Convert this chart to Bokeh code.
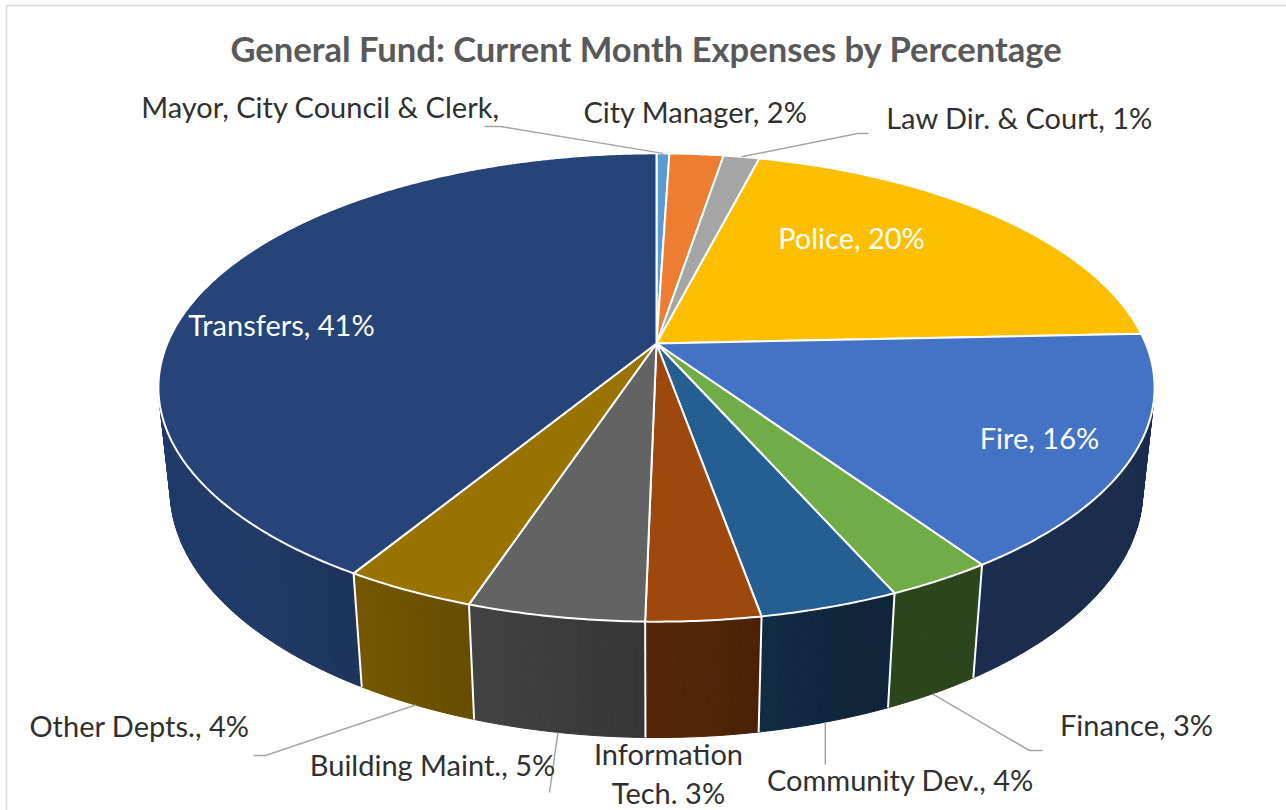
import math
import numpy as np
from bokeh.plotting import figure
from bokeh.models import Range1d
from bokeh.embed import file_html
from bokeh.resources import INLINE
from bokeh.core.properties import value

# ---------------- data ----------------
categories = ["Mayor, City Council & Clerk", "City Manager", "Law Dir. & Court",
              "Police", "Fire", "Finance", "Community Dev.", "Information Tech.",
              "Building Maint.", "Other Depts.", "Transfers"]
values = [0.5, 2.1, 1.4, 20.3, 16.2, 2.9, 3.8, 3.1, 4.8, 3.6, 41.3]
label_texts = ["Mayor, City Council & Clerk,", "City Manager, 2%", "Law Dir. & Court, 1%",
               "Police, 20%", "Fire, 16%", "Finance, 3%", "Community Dev., 4%",
               "Information\nTech. 3%", "Building Maint., 5%", "Other Depts., 4%",
               "Transfers, 41%"]
top_colors = ["#5B9BD5", "#ED7D31", "#A5A5A5", "#FBBF00", "#4472C4", "#70AD47",
              "#255E91", "#9E480E", "#636363", "#997300", "#264478"]
title = "General Fund: Current Month Expenses by Percentage"

# ---------------- layout / style ----------------
FONT = "Lato"
W, H = 1286, 810
CX, CY = 656.0, 343.0
FOC = 2309.0
DIST = 4.72
ALPHA = math.radians(27.5)
THICK = 0.238
SA, CA = math.sin(ALPHA), math.cos(ALPHA)
LABEL_SHIFT = 11.5   # renderer baseline correction
TITLE_SHIFT = 12.5

# label placement: (center x, baseline y, color, anchor on top(0)/bottom(1), leader pts)
label_layout = [
    (320, 117, "#303030", 0, [(484, 126), (500, 126)]),
    (695, 122, "#303030", None, None),
    (1019, 128, "#303030", 0, [(868, 133), (857, 133)]),
    (851, 248, "white", None, None),
    (1039, 448, "white", None, None),
    (1136, 735, "#303030", 1, [(1042, 750), (1029, 750)]),
    (900, 790, "#303030", 1, [("v", 764)]),
    (668, 764, "#303030", None, None),
    (432, 775, "#303030", 1, [(549, 792)]),
    (139, 736, "#303030", 1, [(253, 755), (265, 755)]),
    (281, 335, "white", None, None),
]


def project(theta_deg, w):
    t = math.radians(theta_deg)
    u, v = math.sin(t), math.cos(t)
    depth = DIST + v * CA - w * SA
    up = v * SA + w * CA
    return CX + FOC * u / depth, CY - FOC * up / depth


def shade(hex_color, f):
    h = hex_color.lstrip("#")
    r, g, b = (int(h[i:i + 2], 16) for i in (0, 2, 4))
    return "#%02x%02x%02x" % (int(r * f), int(g * f), int(b * f))


def wall_factor(theta):
    return min(0.88, max(0.40, 0.42 + (theta - 163.0) * 0.00714))


total = float(sum(values))
bounds = [0.0]
for v in values:
    bounds.append(bounds[-1] + 360.0 * v / total)

p = figure(width=W, height=H, output_backend="svg", toolbar_location=None,
           x_range=Range1d(0, W), y_range=Range1d(H, 0), min_border=0)
p.axis.visible = False
p.grid.visible = False
p.outline_line_color = None
p.background_fill_color = "white"

# chart border (top + left visible in reference)
p.segment(x0=[6, 6], y0=[5, 5], x1=[W, 6], y1=[5, H], line_color="#d9d9d9", line_width=1.5)

# ---------------- walls ----------------
vis_lo = math.degrees(math.acos(-1.0 / (DIST * CA)))
vis_hi = 360.0 - vis_lo
wx, wy, wc = [], [], []
edge_x, edge_y = [], []
for i in range(len(values)):
    a0, a1 = bounds[i], bounds[i + 1]
    lo, hi = max(a0, vis_lo), min(a1, vis_hi)
    if hi <= lo:
        continue
    n = max(2, int((hi - lo) / 0.6) + 2)
    ts = np.linspace(lo, hi, n)
    for t0, t1 in zip(ts[:-1], ts[1:]):
        pts = [project(t0, 0), project(t1, 0), project(t1, -THICK), project(t0, -THICK)]
        wx.append([q[0] for q in pts])
        wy.append([q[1] for q in pts])
        wc.append(shade(top_colors[i], wall_factor(0.5 * (t0 + t1))))
for b in bounds[1:-1]:
    if vis_lo < b < vis_hi:
        a, c = project(b, 0), project(b, -THICK)
        edge_x.append([a[0], c[0]])
        edge_y.append([a[1], c[1]])

p.patches(wx, wy, fill_color=wc, line_color=wc, line_width=1)
p.multi_line(edge_x, edge_y, line_color="white", line_width=2)

# ---------------- top faces ----------------
tx, ty = [], []
for i in range(len(values)):
    a0, a1 = bounds[i], bounds[i + 1]
    n = max(3, int((a1 - a0) / 0.5) + 2)
    ts = np.linspace(a0, a1, n)
    xs, ys = [CX], [CY]
    for t in ts:
        q = project(t, 0)
        xs.append(q[0])
        ys.append(q[1])
    tx.append(xs)
    ty.append(ys)
p.patches(tx, ty, fill_color=top_colors, line_color="white", line_width=2, line_join="round")

# ---------------- leaders ----------------
lx, ly = [], []
for i, lay in enumerate(label_layout):
    where, pts = lay[3], lay[4]
    if where is None:
        continue
    mid = 0.5 * (bounds[i] + bounds[i + 1])
    anchor = project(mid, 0 if where == 0 else -THICK)
    xs, ys = [], []
    for q in pts:
        if q[0] == "v":
            xs.append(anchor[0]); ys.append(q[1])
        else:
            xs.append(q[0]); ys.append(q[1])
    xs.append(anchor[0]); ys.append(anchor[1])
    lx.append(xs); ly.append(ys)
p.multi_line(lx, ly, line_color="#a6a6a6", line_width=1.5)

# ---------------- labels ----------------
for i, lay in enumerate(label_layout):
    x, y, col = lay[0], lay[1], lay[2]
    lines = label_texts[i].split("\n")
    for k, line in enumerate(lines):
        p.text(x=[x], y=[y + 39 * k - LABEL_SHIFT], text=[line], text_font=value(FONT),
               text_font_size="29px", text_color=col, text_align="center",
               text_baseline="alphabetic")

p.text(x=[646], y=[60 - TITLE_SHIFT], text=[title], text_font=value(FONT),
       text_font_size="34.6px", text_font_style="bold", text_color="#595959",
       text_align="center", text_baseline="alphabetic")

open("out.html", "w").write(file_html(p, INLINE))
